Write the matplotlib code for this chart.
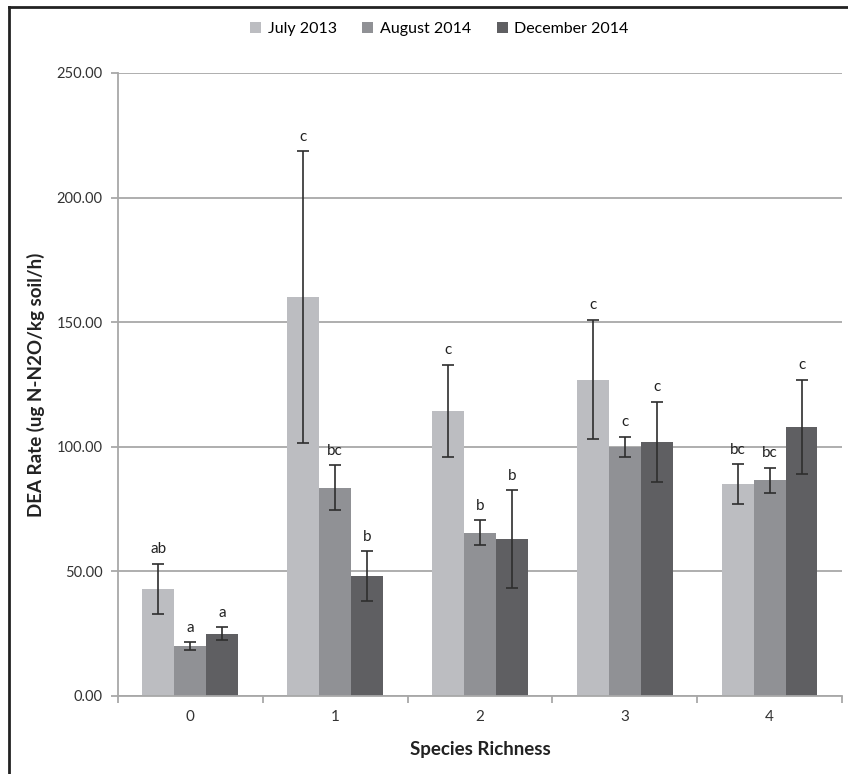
import matplotlib.pyplot as plt
import numpy as np
from matplotlib.lines import Line2D

plt.rcParams['font.family'] = ['Lato', 'DejaVu Sans']

# данные
richness = ['0', '1', '2', '3', '4']
series = ['July 2013', 'August 2014', 'December 2014']
july = [43.0, 160.0, 114.5, 127.0, 85.0]
august = [20.0, 83.5, 65.5, 100.0, 86.5]
december = [25.0, 48.0, 63.0, 102.0, 108.0]
july_err = [10.0, 58.5, 18.5, 24.0, 8.0]
august_err = [1.5, 9.0, 5.0, 4.0, 5.0]
december_err = [2.5, 10.0, 19.5, 16.0, 19.0]
july_letters = ['ab', 'c', 'c', 'c', 'bc']
august_letters = ['a', 'bc', 'b', 'c', 'bc']
december_letters = ['a', 'b', 'b', 'c', 'c']

colors = ['#bcbdc1', '#909195', '#5f5f62']

fig = plt.figure(figsize=(8.48, 7.74), dpi=100)
ax = fig.add_axes([0.139, 0.1008, 0.854, 0.8049])

x = np.arange(len(richness))
width = 0.22
values = [july, august, december]
errors = [july_err, august_err, december_err]
letters = [july_letters, august_letters, december_letters]

for i in range(3):
    pos = x + (i - 1) * width
    ax.bar(pos, values[i], width, color=colors[i], label=series[i], zorder=2)
    ax.errorbar(pos, values[i], yerr=errors[i], fmt='none', ecolor='#2e2e2e',
                elinewidth=1.2, capsize=4, capthick=1.2, zorder=3)
    for j in range(len(x)):
        top = values[i][j] + errors[i][j]
        ax.text(pos[j], top + 3, letters[i][j], ha='center', va='bottom',
                fontsize=11, color='#222222')

ax.set_xlim(-0.5, 4.5)
ax.set_ylim(0, 250)
ax.set_yticks(np.arange(0, 251, 50))
ax.set_yticklabels(['%.2f' % v for v in np.arange(0, 251, 50)], fontsize=10.5, color='#333333')
ax.yaxis.grid(True, color='#a8a8a8', linewidth=1.3, zorder=0)
ax.set_axisbelow(True)

ax.set_xticks(np.arange(-0.5, 4.6, 1))
ax.set_xticklabels([])
ax.set_xticks(x, minor=True)
ax.set_xticklabels(richness, minor=True, fontsize=11, color='#333333')
ax.tick_params(axis='x', which='minor', length=0, pad=10)
ax.tick_params(axis='x', which='major', length=5, color='#a8a8a8', width=1.3)
ax.tick_params(axis='y', length=5, color='#a8a8a8', width=1.3, pad=6)

for side in ['top', 'right']:
    ax.spines[side].set_visible(False)
for side in ['left', 'bottom']:
    ax.spines[side].set_color('#a8a8a8')
    ax.spines[side].set_linewidth(1.3)

ax.set_ylabel('DEA Rate (ug N-N2O/kg soil/h)', fontsize=13.5, fontweight='bold',
              color='#222222', labelpad=8)
ax.set_xlabel('Species Richness', fontsize=13.5, fontweight='bold', color='#222222',
              labelpad=12)

fig.legend(loc='center', bbox_to_anchor=(0.518, 0.963), ncol=3, frameon=False,
           fontsize=11.5, handlelength=0.7, handleheight=0.7, handletextpad=0.4,
           columnspacing=1.6)

# рамка рисунка
fig.add_artist(Line2D([0.0106, 0.0106], [0, 0.991], color='#222222', linewidth=2))
fig.add_artist(Line2D([0.0106, 1.0], [0.991, 0.991], color='#222222', linewidth=2))

fig.savefig('out.png', dpi=100)
